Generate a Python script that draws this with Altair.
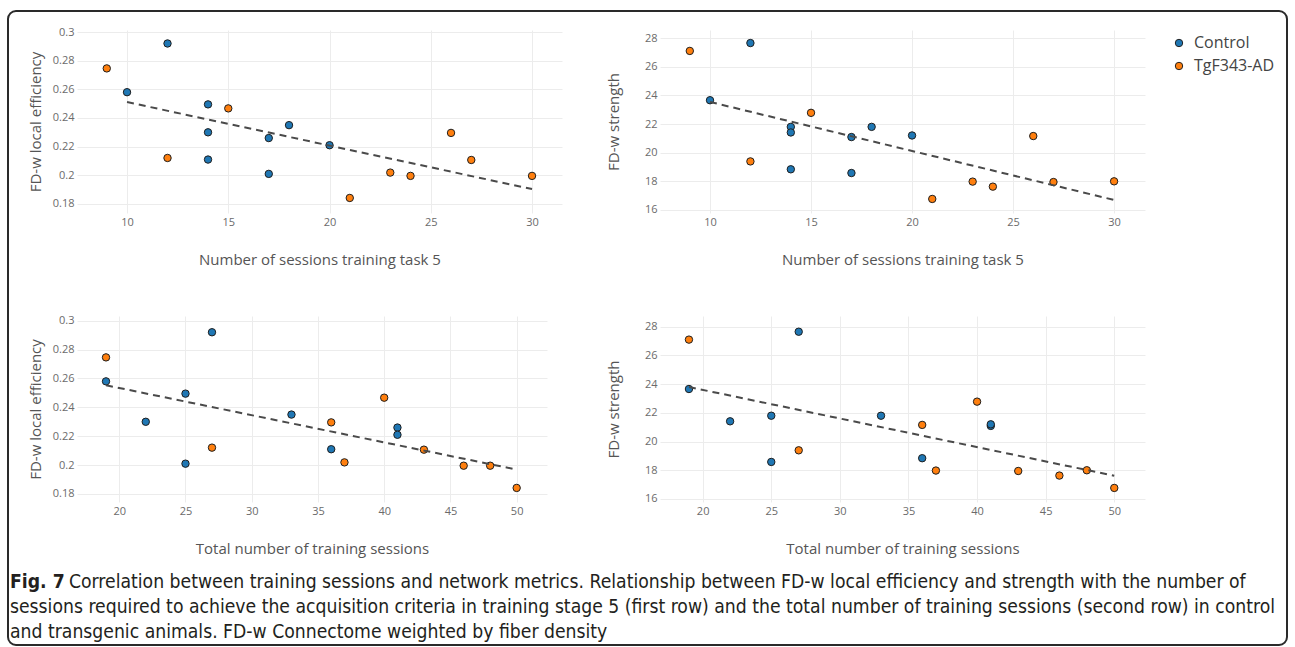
import altair as alt
import pandas as pd

# ---------------- data ----------------
groups_ctrl = ["Control"] * 9
ctrl_task5 = [10, 12, 14, 14, 14, 17, 17, 18, 20]
ctrl_total = [19, 27, 25, 22, 36, 41, 25, 33, 41]
ctrl_eff = [0.258, 0.292, 0.2495, 0.230, 0.211, 0.226, 0.201, 0.235, 0.221]
ctrl_str = [23.66, 27.65, 21.80, 21.41, 18.84, 21.09, 18.58, 21.80, 21.20]

groups_tg = ["TgF343-AD"] * 9
tg_task5 = [9, 12, 15, 21, 23, 24, 26, 27, 30]
tg_total = [19, 27, 40, 50, 37, 46, 36, 43, 48]
tg_eff = [0.2746, 0.2121, 0.2467, 0.1842, 0.2019, 0.1996, 0.2296, 0.2107, 0.1996]
tg_str = [27.10, 19.39, 22.78, 16.77, 17.98, 17.63, 21.16, 17.95, 18.00]

# dashed fit lines (end points)
trend_task5_x = [10, 30]
trend_task5_eff = [0.2511, 0.1904]
trend_task5_str = [23.54, 16.70]
trend_total_x = [19, 50]
trend_total_eff = [0.2553, 0.1969]
trend_total_str = [23.80, 17.62]

# axis tick values
ticks_task5 = [10, 15, 20, 25, 30]
ticks_total = [20, 25, 30, 35, 40, 45, 50]
ticks_eff = [0.18, 0.20, 0.22, 0.24, 0.26, 0.28, 0.30]
ticks_str = [16, 18, 20, 22, 24, 26, 28]

group_names = ["Control", "TgF343-AD"]
group_colors = ["#1f77b4", "#ff7f0e"]

caption_bold = "Fig. 7"
caption_l1 = ("Correlation between training sessions and network metrics. Relationship between "
              "FD-w local efficiency and strength with the number of")
caption_l2 = ("sessions required to achieve the acquisition criteria in training stage 5 (first row) "
              "and the total number of training sessions (second row) in control")
caption_l3 = "and transgenic animals. FD-w Connectome weighted by fiber density"

df = pd.DataFrame({
    "group": groups_ctrl + groups_tg,
    "task5": ctrl_task5 + tg_task5,
    "total": ctrl_total + tg_total,
    "eff": ctrl_eff + tg_eff,
    "strength": ctrl_str + tg_str,
})

FONT = "Open Sans"
CAP_FONT = "Liberation Sans Narrow, DejaVu Sans Condensed, Open Sans"
CAP_SIZE = 19.2

color = alt.Color(
    "group:N",
    scale=alt.Scale(domain=group_names, range=group_colors),
    legend=alt.Legend(
        orient="none", legendX=1094, legendY=5, title=None,
        labelFont=FONT, labelFontSize=16, labelColor="#444",
        symbolType="circle", symbolSize=55, symbolStrokeColor="#222",
        symbolStrokeWidth=1, symbolOpacity=1, labelOffset=7, rowPadding=7, padding=0,
    ),
)


def panel(xf, yf, xdom, ydom, xticks, yticks, yfmt, xtitle, ytitle, w, h,
          ytx, xty, tx, ty, extra=None):
    xenc = alt.X(
        f"{xf}:Q",
        scale=alt.Scale(domain=xdom, nice=False, zero=False),
        axis=alt.Axis(values=xticks, tickCount=len(xticks), title=xtitle,
                      titleX=w / 2, titleY=xty,
                      titleBaseline="middle", titleAlign="center", format="d",
                      labelOverlap=False),
    )
    yenc = alt.Y(
        f"{yf}:Q",
        scale=alt.Scale(domain=ydom, nice=False, zero=False),
        axis=alt.Axis(values=yticks, tickCount=len(yticks), title=ytitle,
                      titleX=ytx, titleY=h / 2,
                      titleAngle=270, titleBaseline="middle", titleAlign="center",
                      format=yfmt, labelOverlap=False),
    )
    pts = alt.Chart(df).mark_point(
        filled=True, size=55, stroke="#1e1e1e", strokeWidth=1, opacity=1
    ).encode(x=xenc, y=yenc, color=color)
    tdf = pd.DataFrame({xf: tx, yf: ty})
    line = alt.Chart(tdf).mark_line(
        color="#4a4a4a", strokeWidth=2, strokeDash=[7, 5]
    ).encode(x=f"{xf}:Q", y=f"{yf}:Q")
    layers = [pts, line]
    if extra:
        layers += extra
    return alt.layer(*layers).properties(width=w, height=h)


one = pd.DataFrame({"k": [0]})
frame = alt.Chart(one).mark_rect(
    filled=False, stroke="#2a2a2a", strokeWidth=2, cornerRadius=8, clip=False
).encode(x=alt.value(-69), x2=alt.value(1210), y=alt.value(-19), y2=alt.value(615))


def cap(text, x, y, weight="normal"):
    return alt.Chart(one).mark_text(
        text=text, align="left", baseline="middle", font=CAP_FONT,
        fontSize=CAP_SIZE, fontWeight=weight, color="#231f20",
    ).encode(x=alt.value(x), y=alt.value(y))


captions = [
    frame,
    cap(caption_bold, -67, 552, "bold"),
    cap(caption_l1, -8, 552),
    cap(caption_l2, -67, 577),
    cap(caption_l3, -67, 602),
]

tl = panel("task5", "eff", [7.53, 31.48], [0.1737, 0.3014], ticks_task5, ticks_eff, ".2~f",
           "Number of sessions training task 5", "FD-w local efficiency", 485, 183,
           -42, 46, trend_task5_x, trend_task5_eff, captions)
tr = panel("task5", "strength", [7.525, 31.53], [15.79, 28.56], ticks_task5, ticks_str, "d",
           "Number of sessions training task 5", "FD-w strength", 485, 183,
           -47, 46, trend_task5_x, trend_task5_str)
bl = panel("total", "eff", [16.81, 52.29], [0.17446, 0.30325], ticks_total, ticks_eff, ".2~f",
           "Total number of training sessions", "FD-w local efficiency", 470, 186,
           -42, 46, trend_total_x, trend_total_eff)
br = panel("total", "strength", [16.89, 52.24], [15.79, 28.745], ticks_total, ticks_str, "d",
           "Total number of training sessions", "FD-w strength", 485, 186,
           -47, 46, trend_total_x, trend_total_str)

row1 = alt.hconcat(tl, tr, spacing=98, bounds="flush")
row2 = alt.hconcat(bl, br, spacing=113, bounds="flush")

chart = alt.vconcat(row1, row2, spacing=286, bounds="flush").properties(
    padding={"left": 7, "top": 10, "right": 7, "bottom": 1},
    background="white",
).configure_view(strokeWidth=0).configure_axis(
    domain=False, ticks=False, grid=True, gridColor="#ececec", gridWidth=1,
    labelFont=FONT, labelFontSize=11, labelColor="#6b6b6b", labelPadding=3,
    titleFont=FONT, titleFontSize=15, titleColor="#555555", titleFontWeight="normal",
)

chart.save("out.html", embed_options={"renderer": "svg", "actions": False})
